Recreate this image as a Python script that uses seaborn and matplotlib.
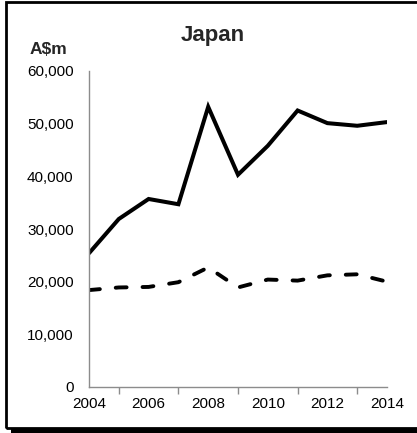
import matplotlib
matplotlib.use("Agg")
import matplotlib.pyplot as plt
import seaborn as sns
import pandas as pd
from matplotlib.patches import Rectangle
from matplotlib.ticker import FuncFormatter, MultipleLocator

years = [2004, 2005, 2006, 2007, 2008, 2009, 2010, 2011, 2012, 2013, 2014]
exports = [25400, 31900, 35700, 34700, 53200, 40300, 45800, 52500, 50100, 49600, 50300]
imports = [18400, 18900, 19000, 19900, 22700, 18900, 20400, 20200, 21200, 21400, 20000]

sns.set_theme(style="white")
plt.rcParams['font.family'] = ['Liberation Sans', 'DejaVu Sans']

df = pd.DataFrame({"year": years, "exports": exports, "imports": imports})

W, H = 417, 433
fig = plt.figure(figsize=(W / 100, H / 100), dpi=100)
ax = fig.add_axes([89 / W, 1 - 387 / H, (387 - 89) / W, (387 - 71) / H])

sns.lineplot(data=df, x="year", y="exports", ax=ax, color="black", lw=2.9,
             solid_joinstyle="miter")
sns.lineplot(data=df, x="year", y="imports", ax=ax, color="black", lw=2.8,
             linestyle=(0, (2.8, 4.1)), dash_capstyle="round")

ax.set_xlim(2004, 2014)
ax.set_ylim(0, 60000)
ax.set_xticks(range(2004, 2015, 2))
ax.xaxis.set_minor_locator(MultipleLocator(1))
ax.set_yticks(range(0, 60001, 10000))
ax.yaxis.set_major_formatter(FuncFormatter(lambda v, p: f"{int(v):,}"))
ax.set_xlabel("")
ax.set_ylabel("")

for s in ["top", "right"]:
    ax.spines[s].set_visible(False)
for s in ["left", "bottom"]:
    ax.spines[s].set_color("#8c8c8c")
    ax.spines[s].set_linewidth(1.0)

ax.tick_params(axis="both", which="both", direction="out", color="#8c8c8c",
               labelsize=11, labelcolor="black")
ax.tick_params(axis="both", which="major", length=5, width=1)
ax.tick_params(axis="x", which="minor", length=5, width=1, bottom=True)
ax.tick_params(axis="y", pad=6)
ax.tick_params(axis="x", pad=2)

fig.text(213 / W, 1 - 36 / H, "Japan", ha="center", va="center",
         fontsize=16, fontweight="bold")
fig.text(48 / W, 1 - 49 / H, "A$m", ha="center", va="center",
         fontsize=12.5, fontweight="bold")

# figure frame with shadow
fig.patches.append(Rectangle((6 / W, 1 - 428 / H), (W + 5) / W, (428 - 1.5) / H,
                             transform=fig.transFigure, fill=False,
                             edgecolor="black", linewidth=2))
fig.patches.append(Rectangle((11 / W, 0), (W) / W, 4.5 / H,
                             transform=fig.transFigure, facecolor="black",
                             edgecolor="none"))

fig.savefig("out.png", dpi=100)
